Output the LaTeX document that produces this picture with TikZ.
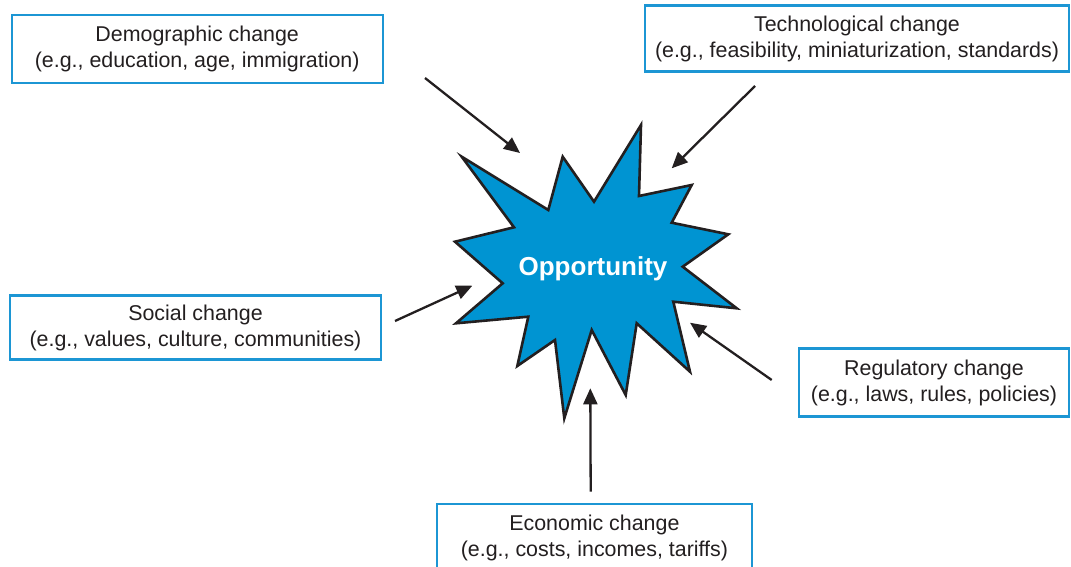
\documentclass[tikz,border=0pt]{standalone}
\usepackage{fontspec}
\setmainfont{Liberation Sans}
\usetikzlibrary{arrows.meta}
\definecolor{boxblue}{RGB}{28,150,212}
\definecolor{starblue}{RGB}{0,148,210}
\definecolor{txt}{RGB}{35,31,32}
\tikzset{
  changebox/.style={draw=boxblue, line width=2.2pt, fill=white, rectangle, align=center,
    inner sep=0pt, text=txt, font=\fontsize{21.4}{26}\selectfont},
  pusharrow/.style={draw=txt, line width=2.3pt, -{Triangle[length=16pt,width=14pt]}},
}
\begin{document}
\begin{tikzpicture}[x=1pt,y=-1pt]
\useasboundingbox (0,0) rectangle (1071,567);
% star
\draw[fill=starblue, draw=txt, line width=2.6pt, line join=miter, miter limit=20]
  (461.7,156.7) -- (548.3,210) -- (562.7,156.7) -- (594,201.7) -- (641,125) --
  (639,196) -- (691.7,185) -- (671.7,222.7) -- (728.3,234.3) -- (682.7,266.7) --
  (736.7,308.3) -- (673.3,301.7) -- (690,371.7) -- (636.7,323.3) -- (625.7,395) --
  (591.7,330) -- (564.3,418.3) -- (555,340) -- (517.3,366) -- (528.3,316.7) --
  (456,323.3) -- (502.7,283.3) -- (455,241.7) -- (514,227.3) -- cycle;
\node[text=white, font=\fontsize{26}{30}\selectfont\bfseries] (opp) at (593,269) {Opportunity};
% boxes
\node[changebox, minimum width=371pt, minimum height=68.7pt] (demo) at (197.2,49)
  {Demographic change\\(e.g., education, age, immigration)};
\node[changebox, minimum width=424pt, minimum height=66pt] (tech) at (857,38.5)
  {Technological change\\(e.g., feasibility, miniaturization, standards)};
\node[changebox, minimum width=371pt, minimum height=64pt] (soc) at (195.5,327.5)
  {Social change\\(e.g., values, culture, communities)};
\node[changebox, minimum width=270pt, minimum height=68pt] (reg) at (934,382.5)
  {Regulatory change\\(e.g., laws, rules, policies)};
\node[changebox, minimum width=314.7pt, minimum height=67.6pt] (eco) at (594.4,538)
  {Economic change\\(e.g., costs, incomes, tariffs)};
% arrow ends
\coordinate (demoS) at (425,78);
\coordinate (demoT) at (520,153);
\coordinate (techS) at (755,86);
\coordinate (techT) at (671.7,168.3);
\coordinate (socS) at (395,321);
\coordinate (socT) at (472.3,285.7);
\coordinate (regS) at (771.7,380);
\coordinate (regT) at (690,322.7);
\coordinate (ecoS) at (590.7,491.7);
\coordinate (ecoT) at (590.3,388.3);
\draw[pusharrow] (demoS) -- (demoT);
\draw[pusharrow] (techS) -- (techT);
\draw[pusharrow] (socS) -- (socT);
\draw[pusharrow] (regS) -- (regT);
\draw[pusharrow] (ecoS) -- (ecoT);
\end{tikzpicture}
\end{document}
